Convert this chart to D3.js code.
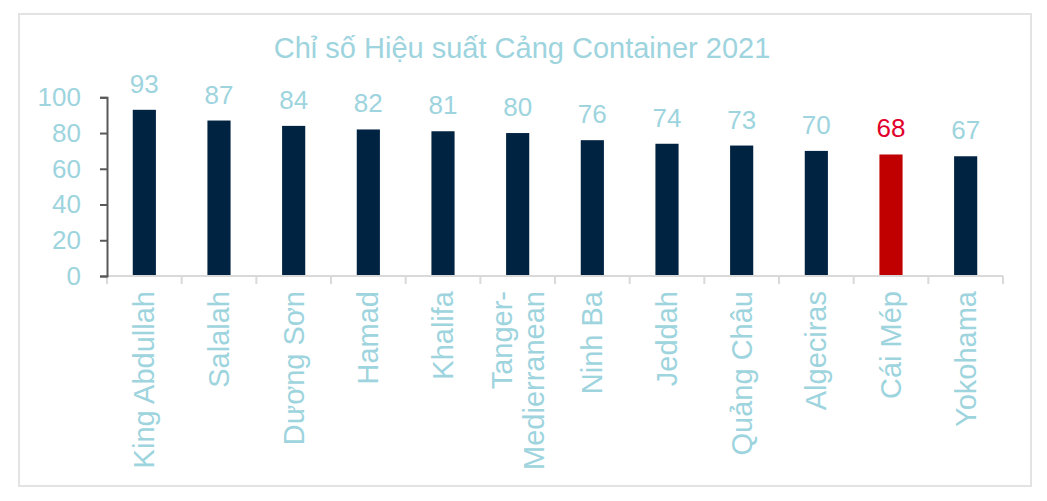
<!DOCTYPE html>
<html>
<head>
<meta charset="utf-8">
<script src="https://cdn.jsdelivr.net/npm/d3@7"></script>
<style>
  body { margin: 0; background: #fff; }
  text { font-family: "Liberation Sans", Arial, sans-serif; }
</style>
</head>
<body>
<div id="mainDiv"></div>
<script>
'use strict';

// data
var ports = ["King Abdullah", "Salalah", "Dương Sơn", "Hamad", "Khalifa", "Tanger-Medierranean",
             "Ninh Ba", "Jeddah", "Quảng Châu", "Algeciras", "Cái Mép", "Yokohama"];
var scores = [93, 87, 84, 82, 81, 80, 76, 74, 73, 70, 68, 67];
var yTicks = [0, 20, 40, 60, 80, 100];
var highlight = "Cái Mép";
var title = "Chỉ số Hiệu suất Cảng Container 2021";

var myApp = {};

myApp.lightBlue = "#9dd4de";
myApp.navy = "#002342";
myApp.red = "#c00000";
myApp.redText = "#e2002a";

// split long names after the hyphen, like the original wraps them
myApp.labelLines = function (name)
{
    var i = name.indexOf("-");
    if (i < 0) return [name];
    return [name.slice(0, i + 1), name.slice(i + 1)];
}

myApp.run = function ()
{
    var svg = d3.select("#mainDiv").append("svg")
        .attr("width", 1047)
        .attr("height", 501);

    // outer frame
    svg.append("rect")
        .attr("x", 19).attr("y", 14)
        .attr("width", 1012).attr("height", 472)
        .attr("fill", "#fff")
        .attr("stroke", "#e3e3e3")
        .attr("stroke-width", 2);

    svg.append("text")
        .text(title)
        .attr("x", 522)
        .attr("y", 58)
        .attr("text-anchor", "middle")
        .attr("font-size", "29px")
        .attr("fill", myApp.lightBlue);

    var x = d3.scaleBand().domain(ports).range([107, 1003]).padding(0);
    var y = d3.scaleLinear().domain([0, 100]).range([276, 97.3]);
    var barW = x.bandwidth() * 0.31;

    // bars
    svg.selectAll("rect.bar")
        .data(ports)
        .enter()
        .append("rect")
            .attr("class", "bar")
            .attr("x", function (d) { return x(d) + (x.bandwidth() - barW) / 2; })
            .attr("y", function (d, i) { return y(scores[i]); })
            .attr("width", barW)
            .attr("height", function (d, i) { return y(0) - y(scores[i]); })
            .attr("fill", function (d) { return d === highlight ? myApp.red : myApp.navy; });

    // value labels
    svg.selectAll("text.val")
        .data(ports)
        .enter()
        .append("text")
            .attr("class", "val")
            .text(function (d, i) { return scores[i]; })
            .attr("x", function (d) { return x(d) + x.bandwidth() / 2; })
            .attr("y", function (d, i) { return y(scores[i]) - 17; })
            .attr("text-anchor", "middle")
            .attr("font-size", "26px")
            .attr("fill", function (d) { return d === highlight ? myApp.redText : myApp.lightBlue; });

    // x axis: light line with ticks at band edges
    var xAxis = svg.append("g")
        .attr("transform", "translate(0," + y(0) + ")")
        .call(d3.axisBottom(x).tickSize(0).tickFormat(""));
    xAxis.select(".domain").remove();
    xAxis.append("line")
        .attr("x1", 107).attr("x2", 1003)
        .attr("stroke", "#d9d9d9").attr("stroke-width", 2);
    xAxis.selectAll("line.edge")
        .data(ports.concat(["end"]))
        .enter()
        .append("line")
            .attr("class", "edge")
            .attr("x1", function (d, i) { return 107 + i * x.step(); })
            .attr("x2", function (d, i) { return 107 + i * x.step(); })
            .attr("y1", 0).attr("y2", 8)
            .attr("stroke", "#d9d9d9").attr("stroke-width", 2);

    // category labels, rotated
    ports.forEach(function (p) {
        var lines = myApp.labelLines(p);
        var cx = x(p) + x.bandwidth() / 2;
        lines.forEach(function (line, j) {
            var off = (j - (lines.length - 1) / 2) * 32;
            svg.append("text")
                .text(line)
                .attr("transform", "translate(" + (cx + off) + ",291) rotate(-90)")
                .attr("dy", "0.35em")
                .attr("text-anchor", "end")
                .attr("font-size", "29px")
                .attr("fill", myApp.lightBlue);
        });
    });

    // y axis
    var yAxis = svg.append("g")
        .attr("transform", "translate(107,0)")
        .call(d3.axisLeft(y).tickValues(yTicks).tickSize(7).tickPadding(19));
    yAxis.select(".domain")
        .attr("stroke", "#595959").attr("stroke-width", 2);
    yAxis.selectAll(".tick line")
        .attr("stroke", "#595959").attr("stroke-width", 2);
    yAxis.selectAll(".tick text")
        .attr("font-size", "26px")
        .attr("font-family", "\"Liberation Sans\", Arial, sans-serif")
        .attr("fill", myApp.lightBlue);
}

window.onload = myApp.run;
</script>
</body>
</html>
